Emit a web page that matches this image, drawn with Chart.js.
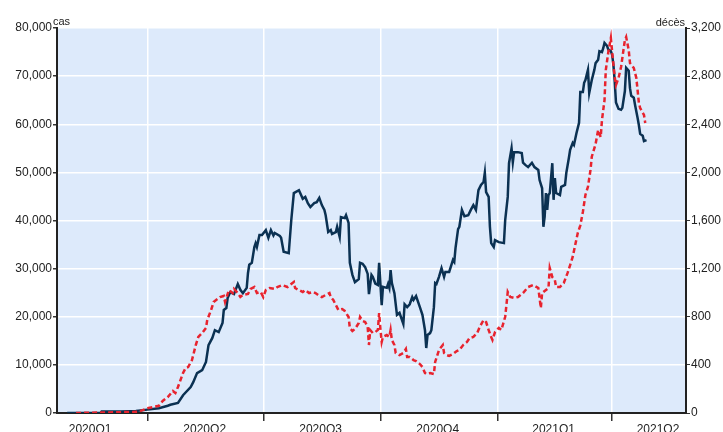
<!DOCTYPE html>
<html><head><meta charset="utf-8">
<script src="https://cdn.jsdelivr.net/npm/chart.js@4.4.0/dist/chart.umd.min.js"></script>
<style>html,body{margin:0;padding:0;background:#fff}#wrap{width:723px;height:432px;position:relative}</style>
</head><body><div id="wrap"><canvas id="c" width="723" height="432"></canvas></div>
<script>
// ---- data (7-day averages) ----
const caseDates = ['2020-01-29','2020-02-24','2020-02-25','2020-03-11','2020-03-23','2020-04-01','2020-04-10','2020-04-17','2020-04-19','2020-04-25','2020-04-29','2020-05-05','2020-05-07','2020-05-10','2020-05-14','2020-05-17','2020-05-19','2020-05-22','2020-05-24','2020-05-27','2020-05-30','2020-05-31','2020-06-02','2020-06-03','2020-06-05','2020-06-08','2020-06-11','2020-06-13','2020-06-15','2020-06-18','2020-06-19','2020-06-20','2020-06-22','2020-06-24','2020-06-25','2020-06-26','2020-06-28','2020-06-30','2020-07-03','2020-07-05','2020-07-07','2020-07-09','2020-07-10','2020-07-14','2020-07-15','2020-07-17','2020-07-21','2020-07-23','2020-07-25','2020-07-29','2020-07-30','2020-08-01','2020-08-03','2020-08-05','2020-08-07','2020-08-10','2020-08-12','2020-08-14','2020-08-16','2020-08-18','2020-08-19','2020-08-21','2020-08-23','2020-08-24','2020-08-27','2020-08-28','2020-08-30','2020-08-31','2020-09-03','2020-09-04','2020-09-06','2020-09-07','2020-09-09','2020-09-11','2020-09-14','2020-09-15','2020-09-17','2020-09-19','2020-09-21','2020-09-22','2020-09-24','2020-09-25','2020-09-27','2020-09-29','2020-09-30','2020-10-02','2020-10-03','2020-10-06','2020-10-07','2020-10-08','2020-10-09','2020-10-10','2020-10-12','2020-10-14','2020-10-16','2020-10-19','2020-10-20','2020-10-22','2020-10-24','2020-10-26','2020-10-27','2020-10-29','2020-11-01','2020-11-03','2020-11-05','2020-11-06','2020-11-07','2020-11-09','2020-11-10','2020-11-12','2020-11-13','2020-11-14','2020-11-16','2020-11-18','2020-11-20','2020-11-21','2020-11-24','2020-11-27','2020-11-28','2020-11-29','2020-12-01','2020-12-02','2020-12-04','2020-12-06','2020-12-09','2020-12-11','2020-12-13','2020-12-15','2020-12-17','2020-12-19','2020-12-21','2020-12-22','2020-12-23','2020-12-25','2020-12-26','2020-12-27','2020-12-29','2020-12-30','2021-01-02','2021-01-06','2021-01-07','2021-01-09','2021-01-10','2021-01-12','2021-01-13','2021-01-14','2021-01-17','2021-01-20','2021-01-21','2021-01-23','2021-01-25','2021-01-28','2021-01-30','2021-02-02','2021-02-03','2021-02-05','2021-02-06','2021-02-07','2021-02-08','2021-02-09','2021-02-10','2021-02-11','2021-02-13','2021-02-14','2021-02-15','2021-02-16','2021-02-19','2021-02-20','2021-02-23','2021-02-24','2021-02-26','2021-02-27','2021-03-01','2021-03-02','2021-03-04','2021-03-06','2021-03-07','2021-03-09','2021-03-10','2021-03-11','2021-03-13','2021-03-14','2021-03-16','2021-03-18','2021-03-19','2021-03-21','2021-03-22','2021-03-24','2021-03-25','2021-03-26','2021-03-28','2021-03-29','2021-03-31','2021-04-01','2021-04-02','2021-04-03','2021-04-04','2021-04-06','2021-04-08','2021-04-09','2021-04-11','2021-04-12','2021-04-14','2021-04-15','2021-04-16','2021-04-18','2021-04-19','2021-04-21','2021-04-22','2021-04-23','2021-04-25','2021-04-26','2021-04-28'];
const caseValues = [0,0,300,300,400,700,1000,1500,1700,2100,3700,5400,6400,8300,8900,10600,14100,15600,17200,16800,18700,21400,21800,23900,25100,24700,26800,25600,24900,26000,29100,30800,31200,34500,35300,34500,37000,37000,38000,36400,38000,36900,37400,36800,36400,33500,33200,40100,45700,46300,45700,44500,44900,43600,42800,43600,43800,44700,43200,42200,41100,37600,38000,37200,37600,38700,36600,40700,40500,41100,39500,31200,28700,27200,27800,31200,31000,30300,28900,24700,28700,28300,26900,26600,31200,22400,26200,26000,26800,26000,29700,27000,24900,20400,20800,18500,22600,22000,22600,24100,23500,24300,22000,20400,17200,13500,16200,16600,17200,22000,27000,26800,28300,30100,28300,29300,29300,31800,31400,34300,38200,38700,42200,40900,41100,42200,43200,42200,46300,47400,48000,49900,45900,44900,38700,35300,34500,35900,35500,35300,40100,44900,51900,55000,52100,54200,54200,54000,52000,51500,51100,52000,51100,50500,48400,46700,38700,40800,45700,42200,45300,45700,51900,44300,48800,45700,45300,47000,47400,49900,53000,54700,56100,55700,58200,60300,66700,66700,68600,69200,71300,66500,69200,71300,72700,73400,75200,75000,75800,76900,76300,75500,75200,74400,72300,69000,64500,63200,63000,63400,66900,71700,71100,67500,65900,65500,64000,61300,59800,58000,57600,56500,56700];

const deathDates = ['2020-02-05','2020-03-25','2020-04-01','2020-04-10','2020-04-13','2020-04-17','2020-04-21','2020-04-23','2020-04-25','2020-04-29','2020-05-01','2020-05-03','2020-05-06','2020-05-09','2020-05-11','2020-05-14','2020-05-17','2020-05-18','2020-05-21','2020-05-23','2020-05-26','2020-05-28','2020-05-31','2020-06-01','2020-06-04','2020-06-07','2020-06-08','2020-06-11','2020-06-13','2020-06-15','2020-06-19','2020-06-21','2020-06-24','2020-06-26','2020-06-29','2020-07-01','2020-07-03','2020-07-06','2020-07-10','2020-07-12','2020-07-16','2020-07-20','2020-07-22','2020-07-25','2020-07-26','2020-07-29','2020-08-01','2020-08-03','2020-08-06','2020-08-09','2020-08-11','2020-08-14','2020-08-16','2020-08-19','2020-08-22','2020-08-23','2020-08-25','2020-08-27','2020-08-29','2020-09-01','2020-09-03','2020-09-06','2020-09-07','2020-09-09','2020-09-11','2020-09-14','2020-09-15','2020-09-17','2020-09-19','2020-09-21','2020-09-22','2020-09-23','2020-09-25','2020-09-27','2020-09-29','2020-09-30','2020-10-01','2020-10-02','2020-10-03','2020-10-06','2020-10-08','2020-10-09','2020-10-10','2020-10-12','2020-10-13','2020-10-16','2020-10-19','2020-10-21','2020-10-22','2020-10-24','2020-10-27','2020-10-29','2020-11-01','2020-11-03','2020-11-05','2020-11-06','2020-11-09','2020-11-12','2020-11-13','2020-11-14','2020-11-16','2020-11-19','2020-11-20','2020-11-22','2020-11-24','2020-11-27','2020-11-30','2020-12-02','2020-12-05','2020-12-08','2020-12-10','2020-12-13','2020-12-16','2020-12-18','2020-12-21','2020-12-23','2020-12-25','2020-12-27','2020-12-28','2020-12-30','2021-01-02','2021-01-04','2021-01-07','2021-01-08','2021-01-09','2021-01-11','2021-01-14','2021-01-17','2021-01-19','2021-01-21','2021-01-25','2021-01-29','2021-02-02','2021-02-04','2021-02-05','2021-02-08','2021-02-10','2021-02-11','2021-02-13','2021-02-15','2021-02-16','2021-02-19','2021-02-22','2021-02-25','2021-02-27','2021-03-01','2021-03-05','2021-03-07','2021-03-09','2021-03-11','2021-03-13','2021-03-15','2021-03-16','2021-03-19','2021-03-21','2021-03-23','2021-03-24','2021-03-26','2021-03-27','2021-03-29','2021-03-31','2021-04-01','2021-04-03','2021-04-04','2021-04-06','2021-04-08','2021-04-11','2021-04-12','2021-04-14','2021-04-15','2021-04-18','2021-04-20','2021-04-22','2021-04-23','2021-04-26','2021-04-27'];
const deathValues = [0,10,40,60,100,133,183,166,216,332,374,382,440,565,632,665,707,773,856,923,948,964,973,923,1022,997,1031,997,964,981,989,1031,1047,997,1006,964,1022,1039,1031,1047,1064,1047,1064,1089,1039,1022,1006,1022,997,1006,997,973,964,981,997,964,939,898,856,864,848,798,707,682,698,748,798,765,756,715,565,690,665,673,690,831,700,590,632,648,632,690,607,565,499,482,499,532,465,465,440,432,407,382,332,324,332,324,424,457,524,565,499,482,474,490,515,524,565,590,623,632,665,715,773,756,690,632,607,673,707,690,800,900,1006,964,956,964,981,997,1047,1064,1039,873,997,1022,1039,1205,1130,1105,1047,1047,1080,1164,1230,1297,1496,1560,1671,1812,1880,2020,2130,2236,2352,2294,2435,2600,2850,3000,3117,3000,2793,2726,2784,2876,3100,3125,3017,2909,2868,2784,2577,2535,2477,2410];

const xRange = ['2020-01-21','2021-05-29'];
const quarterBoundaries = ['2020-04-01','2020-07-01','2020-10-01','2021-01-01','2021-04-01'];
const quarterLabels = ['2020Q1','2020Q2','2020Q3','2020Q4','2021Q1','2021Q2'];
const quarterLabelDates = ['2020-02-16','2020-05-16','2020-08-15','2020-11-15','2021-02-14','2021-05-07'];
const casAxis = {min:0, max:80000, step:10000, unit:'cas'};
const decesAxis = {min:0, max:3200, step:400, unit:'décès'};

// ---- helpers ----
function day(s){const p=s.split('-').map(Number);return (Date.UTC(p[0],p[1]-1,p[2])-Date.UTC(2020,0,1))/864e5;}
const bDays = quarterBoundaries.map(day);
const lDays = quarterLabelDates.map(day);
const fmt = v => Number(v).toLocaleString('en-US');

Chart.defaults.font.family = "'Liberation Sans', Arial, sans-serif";
Chart.defaults.font.size = 12;
Chart.defaults.color = '#222';

const bgPlugin = {
  id:'bg',
  beforeDraw(chart){
    const a = chart.chartArea, c = chart.ctx;
    c.save(); c.fillStyle = '#DDEAFB'; c.fillRect(a.left, a.top, a.right-a.left, a.bottom-a.top); c.restore();
  },
  afterDraw(chart){
    const a = chart.chartArea, c = chart.ctx;
    c.save(); c.fillStyle = '#222'; c.font = "11px 'Liberation Sans', Arial, sans-serif";
    c.textBaseline = 'alphabetic';
    c.textAlign = 'left'; c.fillText(casAxis.unit, a.left-4, a.top-3);
    c.textAlign = 'right'; c.fillText(decesAxis.unit, a.right-1, a.top-2);
    c.restore();
  }
};

new Chart(document.getElementById('c'), {
  type:'line',
  data:{
    datasets:[
      {label:'décès', yAxisID:'y2', data: deathDates.map((d,i)=>({x:day(d), y:deathValues[i]})),
       borderColor:'#E8232E', borderWidth:2.5, borderDash:[5,3], pointRadius:0, tension:0, fill:false, order:0},
      {label:'cas', yAxisID:'y', data: caseDates.map((d,i)=>({x:day(d), y:caseValues[i]})),
       borderColor:'#0B3152', borderWidth:2.5, pointRadius:0, tension:0, fill:false, order:1}
    ]
  },
  options:{
    responsive:false, animation:false, devicePixelRatio:1,
    layout:{padding:{top:28, left:0, right:0, bottom:0}},
    plugins:{legend:{display:false}, tooltip:{enabled:false}},
    scales:{
      x:{type:'linear', min:day(xRange[0]), max:day(xRange[1]),
         afterBuildTicks(scale){
           const t = bDays.map(v=>({value:v, b:true})).concat(lDays.map(v=>({value:v, b:false})));
           t.sort((p,q)=>p.value-q.value);
           scale.ticks = t;
         },
         afterFit(scale){ scale.height = 19; },
         grid:{ color: ctx => (ctx.tick && ctx.tick.b) ? '#ffffff' : 'rgba(0,0,0,0)',
                tickColor: ctx => (ctx.tick && ctx.tick.b) ? '#333' : 'rgba(0,0,0,0)',
                lineWidth:1.5, tickWidth:1.5, tickLength:8 },
         border:{color:'#222', width:2},
         ticks:{autoSkip:false, maxRotation:0, minRotation:0, padding:1,
                callback: v => { const i = lDays.indexOf(v); return i>=0 ? quarterLabels[i] : ''; } }
      },
      y:{position:'left', min:casAxis.min, max:casAxis.max,
         afterFit(scale){ scale.width = 57; },
         grid:{color:'#ffffff', lineWidth:1.5, tickColor:'#333', tickLength:4},
         border:{color:'#222', width:2},
         ticks:{stepSize:casAxis.step, padding:1, callback: v => fmt(v)}
      },
      y2:{position:'right', min:decesAxis.min, max:decesAxis.max,
         afterFit(scale){ scale.width = 37; },
         grid:{drawOnChartArea:false, tickColor:'#333', tickLength:4},
         border:{color:'#222', width:2},
         ticks:{stepSize:decesAxis.step, padding:1, callback: v => fmt(v)}
      }
    }
  },
  plugins:[bgPlugin]
});
</script></body></html>
